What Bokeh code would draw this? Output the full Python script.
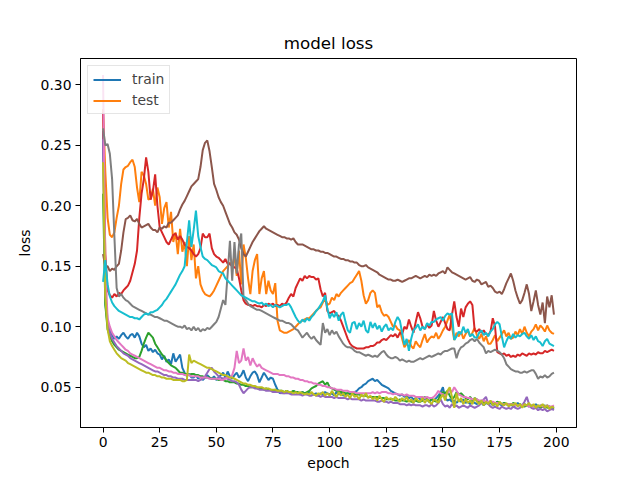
from bokeh.plotting import figure
from bokeh.models import Range1d, FixedTicker, NumeralTickFormatter, Legend, LegendItem
from bokeh.embed import file_html
from bokeh.resources import INLINE

epochs = list(range(200))

# loss values in thousandths, one per epoch (0..199)
s_blue = [262,120,102,97,93,90,92,90,93,95, 92,90,93,94,91,95,92,86,83,85,
          80,82,79,81,78,77,73,76,71,73, 69,78,71,74,77,66,62,59,61,58,
          58,60,57,59,56,58,60,58,57,59, 56,58,60,62,58,63,59,57,60,62,
          58,60,64,58,55,59,62,63,60,54, 58,62,59,56,58,57,52,48,45,46,
          45,47,46,45,47,46,45,44,46,45, 44,46,45,44,45,43,45,44,46,45,
          44,45,43,46,44,45,43,44,45,44, 45,46,47,49,50,52,53,55,56,57,
          55,56,54,52,51,50,49,47,46,45, 44,43,44,42,43,41,42,40,41,42,
          40,39,41,40,38,40,39,41,43,46, 50,41,39,40,38,39,37,39,38,40,
          37,38,36,38,37,36,38,37,35,37, 36,37,35,36,38,36,35,37,36,35,
          36,34,35,37,35,34,36,35,34,35, 34,36,33,35,34,33,35,34,33,34]
s_orange = [280,228,190,176,174,178,190,200,218,230, 232,233,236,238,232,215,203,228,225,218,
            205,206,214,200,215,207,185,198,203,182, 195,170,178,160,181,162,170,150,175,155,
            168,140,150,135,130,127,126,125,127,130, 134,138,142,146,148,150,153,150,158,142,
            163,135,168,157,140,127,146,155,160,127, 140,146,127,138,130,127,136,105,97,96,
            95,95,96,97,98,100,102,104,105,106, 107,107,109,111,113,115,116,120,123,118,
            119,124,122,127,125,128,130,132,134,136, 137,140,143,146,138,126,119,122,128,130,
            128,116,118,112,109,110,108,104,100,101, 98,97,90,83,86,89,84,82,88,85,
            83,89,94,87,90,92,91,95,90,93, 97,100,105,110,100,89,95,92,96,90,
            94,97,92,95,99,93,90,94,88,92, 86,86,89,93,88,91,94,97,92,95,
            90,91,96,93,98,94,100,95,92,96, 98,102,97,101,99,96,101,97,95,94]
s_green = [210,118,98,92,88,85,83,81,80,79, 78,77,76,75,74,74,75,80,86,91,
           95,93,91,86,83,80,77,75,72,70, 68,67,66,64,62,62,61,61,60,61,
           61,60,60,59,59,58,58,58,57,57, 57,56,56,56,55,55,54,54,54,53,
           53,52,52,51,51,50,50,50,49,49, 49,48,49,48,48,47,48,47,47,47,
           46,47,46,46,47,46,46,45,46,45, 46,47,49,50,51,53,54,55,52,54,
           50,49,48,47,47,46,46,45,45,45, 45,44,44,44,43,43,43,42,42,42,
           42,42,41,41,41,40,40,40,40,39, 39,40,39,39,38,39,38,38,39,38,
           38,39,42,40,38,41,39,38,40,44, 46,45,47,43,40,42,46,44,45,43,
           41,40,42,39,41,40,38,39,37,38, 37,38,37,36,38,37,36,37,36,36,
           35,37,36,35,36,35,34,35,36,34, 35,34,35,33,34,35,33,34,33,32]
s_red = [277,160,130,126,124,127,125,128,127,130, 132,134,138,145,152,163,190,210,222,240,
         228,205,212,226,200,182,178,174,170,168, 172,176,177,172,175,172,168,166,165,163,
         160,158,160,165,177,174,174,177,165,160, 158,157,155,153,156,152,152,150,149,148,
         140,130,122,119,118,118,117,118,117,117, 116,118,117,119,118,119,117,118,117,119,
         118,120,124,127,125,132,136,140,138,142, 140,142,141,141,139,140,131,125,128,113,
         111,112,113,110,109,105,100,95,90,86, 84,83,82,82,82,82,83,83,84,84,
         85,87,87,89,90,89,91,93,92,94, 91,95,94,100,98,106,100,95,104,112,
         107,100,98,102,99,101,113,105,100,104, 108,103,98,97,110,121,108,100,115,108,
         116,119,121,118,97,96,98,95,97,94, 93,96,107,100,79,78,77,78,76,77,
         75,76,75,77,76,78,77,76,78,77, 78,77,79,78,78,80,79,80,81,80]
s_purple = [255,130,105,95,90,87,84,82,80,78, 77,76,74,73,72,71,70,69,68,67,
            66,65,64,63,63,62,61,60,60,59, 59,58,58,57,57,57,56,56,56,56,
            56,56,55,56,57,59,62,65,66,63, 61,59,58,57,58,57,56,55,55,54,
            52,48,45,47,49,50,50,49,49,48, 48,48,47,47,47,46,46,46,46,45,
            45,45,45,44,44,44,44,44,43,44, 44,43,43,44,43,43,42,43,42,42,
            42,42,41,42,41,41,41,41,40,41, 40,40,40,40,39,40,39,39,39,39,
            39,38,38,39,38,38,37,38,37,37, 37,36,36,36,35,36,35,36,35,35,
            35,34,35,35,34,36,34,35,37,40, 36,34,35,33,36,34,35,33,34,35,
            34,33,35,34,33,34,35,37,40,42, 36,34,33,34,33,32,34,33,32,33,
            32,34,33,32,33,35,38,42,36,33, 32,33,31,32,31,32,30,31,32,31]
s_brown = [160,150,150,146,148,147,150,152,163,178, 189,190,192,188,187,189,185,182,183,184,
           185,182,180,180,178,182,181,183,182,186, 186,188,190,192,197,201,204,208,212,216,
           218,220,222,232,246,252,254,245,232,218, 213,207,203,200,195,190,185,182,178,176,
           172,165,160,158,162,166,170,173,176,179, 181,183,181,180,179,178,177,176,175,174,
           174,173,173,172,173,170,168,168,168,167, 166,165,164,164,163,163,162,162,161,161,
           160,159,158,158,157,156,156,155,155,154, 154,153,153,151,150,150,151,149,148,147,
           146,145,143,142,141,140,139,139,138,138, 139,138,137,138,139,140,140,141,142,141,
           140,141,142,141,143,142,143,142,144,145, 146,144,149,147,145,144,143,142,141,140,
           139,140,141,138,137,139,138,135,136,137, 133,134,132,129,128,129,127,131,136,140,
           144,138,130,124,119,122,128,135,127,113, 121,130,118,110,120,103,125,116,126,110]
s_pink = [308,150,107,100,95,92,89,87,85,83, 81,80,78,77,76,75,74,73,72,71,
          70,69,68,67,66,66,65,64,64,63, 63,62,62,61,61,61,60,60,60,59,
          59,59,59,58,58,58,58,57,57,57, 57,57,56,56,57,58,58,60,66,80,
          70,72,82,72,75,68,74,70,67,69, 66,65,64,63,62,61,61,61,60,60,
          60,59,59,58,58,57,57,56,56,55, 55,54,54,53,53,52,52,51,51,50,
          50,49,49,48,48,48,47,47,47,46, 46,46,45,45,45,45,45,45,45,46,
          45,46,45,46,46,46,45,45,44,45, 44,44,44,43,44,43,43,43,42,42,
          42,42,41,42,41,41,42,44,47,45, 44,43,45,48,46,50,47,44,43,42,
          42,41,41,40,40,40,39,39,39,38, 38,38,38,37,37,37,36,36,36,36,
          36,36,35,35,35,35,35,35,34,35, 34,34,34,35,34,34,35,34,34,35]
s_gray = [264,250,251,243,222,175,132,125,127,124, 122,121,119,117,116,115,114,113,112,111,
          110,110,109,108,108,107,106,105,105,104, 103,102,101,100,100,99,101,98,99,97,
          100,97,99,96,98,97,99,98,100,102, 104,108,115,122,118,144,171,138,170,144,
          168,177,124,122,119,117,116,115,114,114, 113,112,111,110,109,108,107,106,105,105,
          104,103,103,102,100,98,97,94,91,93, 95,92,90,92,89,87,85,103,95,98,
          93,97,94,96,92,89,86,84,83,83, 82,80,79,79,78,77,76,77,76,75,
          76,75,77,79,80,77,75,74,74,75, 74,72,73,72,71,72,71,71,72,73,
          74,73,74,75,76,75,76,77,78,77, 79,80,80,81,82,82,74,80,83,84,
          86,87,89,90,88,90,87,85,83,78, 80,79,80,81,80,79,77,74,69,67,
          65,64,63,63,62,62,63,62,63,64, 64,61,57,59,58,60,58,59,61,62]
s_olive = [236,125,98,88,84,81,78,76,74,73, 72,70,69,68,67,66,65,64,63,62,
           62,61,60,60,59,59,58,58,57,57, 57,56,56,56,56,55,55,56,77,70,
           72,71,70,69,68,67,66,66,65,64, 63,62,61,60,60,59,58,58,57,56,
           55,54,53,53,52,52,51,51,50,50, 50,49,49,49,48,48,48,47,47,47,
           46,47,46,46,45,46,45,46,45,44, 45,44,46,44,43,45,44,46,43,45,
           43,47,44,42,46,43,45,42,44,41, 45,42,43,40,44,42,45,41,43,40,
           42,39,43,40,38,42,40,41,39,42, 40,38,41,39,42,38,40,37,41,39,
           38,41,37,40,38,36,40,39,37,41, 44,39,47,50,42,33,45,38,41,36,
           40,37,39,36,41,38,36,39,35,38, 36,39,35,37,34,38,36,35,37,34,
           36,35,37,34,36,33,36,35,37,34, 36,33,35,34,36,33,35,32,34,33]
s_cyan = [137,155,135,125,120,117,115,113,112,111, 110,109,108,108,107,107,106,108,110,111,
          110,112,112,113,114,116,118,121,123,126, 129,132,135,139,143,146,150,170,188,166,
          180,196,175,166,158,156,155,153,151,150, 149,146,145,144,140,138,136,134,132,130,
          128,126,125,124,123,122,121,121,120,119, 120,118,119,117,118,116,118,117,116,117,
          118,118,119,116,112,108,105,103,106,104, 107,105,108,110,113,115,118,121,126,115,
          107,111,108,112,105,110,112,104,97,95, 103,104,98,103,100,105,97,95,104,99,
          103,98,101,96,100,102,97,99,97,104, 108,105,95,85,90,80,90,97,99,102,
          97,100,98,103,101,104,104,106,107,108, 105,109,111,110,111,89,92,96,94,100,
          95,98,92,94,91,91,95,97,93,95, 92,96,98,102,104,102,92,83,88,92,
          90,94,91,93,92,94,95,92,90,93, 89,92,88,87,84,88,90,86,85,84]

series = [
    (s_blue, "#1f77b4"), (s_orange, "#ff7f0e"), (s_green, "#2ca02c"),
    (s_red, "#d62728"), (s_purple, "#9467bd"), (s_brown, "#8c564b"),
    (s_pink, "#e377c2"), (s_gray, "#7f7f7f"), (s_olive, "#bcbd22"),
    (s_cyan, "#17becf"),
]
legend_labels = ["train", "test"]
x_ticks = [0, 25, 50, 75, 100, 125, 150, 175, 200]
y_ticks = [0.05, 0.10, 0.15, 0.20, 0.25, 0.30]

FONT = "DejaVu Sans"

p = figure(frame_width=496, frame_height=369,
           min_border_left=80, min_border_right=56,
           min_border_top=58, min_border_bottom=45,
           x_range=Range1d(-9.95, 208.95), y_range=Range1d(0.0167, 0.3217),
           output_backend="svg", toolbar_location=None, title="model loss")

renderers = []
for vals, col in series:
    r = p.line(epochs, [v / 1000 for v in vals], line_color=col, line_width=2)
    renderers.append(r)

p.xgrid.visible = False
p.ygrid.visible = False
p.outline_line_color = "black"
p.outline_line_width = 1
p.outline_line_alpha = 1
p.background_fill_color = "white"
p.border_fill_color = "white"

p.title.align = "center"
p.title.text_font = FONT
p.title.text_font_size = "16.7px"
p.title.text_font_style = "normal"
p.title.text_color = "black"
p.title.standoff = 12

p.xaxis.ticker = FixedTicker(ticks=x_ticks)
p.yaxis.ticker = FixedTicker(ticks=y_ticks)
p.yaxis.formatter = NumeralTickFormatter(format="0.00")
p.xaxis.axis_label = "epoch"
p.yaxis.axis_label = "loss"
for ax in (p.xaxis, p.yaxis):
    ax.major_label_text_font = FONT
    ax.major_label_text_font_size = "13.9px"
    ax.major_label_text_color = "black"
    ax.axis_label_text_font = FONT
    ax.axis_label_text_font_size = "13.9px"
    ax.axis_label_text_font_style = "normal"
    ax.axis_label_text_color = "black"
    ax.major_tick_out = 5
    ax.major_tick_in = 0
    ax.minor_tick_out = 0
    ax.minor_tick_in = 0
    ax.major_tick_line_color = "black"
    ax.axis_line_color = "black"
    ax.major_label_standoff = 4
    ax.axis_label_standoff = 5

legend = Legend(items=[LegendItem(label=legend_labels[0], renderers=[renderers[0]]),
                       LegendItem(label=legend_labels[1], renderers=[renderers[1]])],
                location="top_left")
legend.margin = 7
legend.padding = 5
legend.spacing = 5
legend.label_height = 15
legend.glyph_height = 15
legend.glyph_width = 28
legend.label_standoff = 11
legend.label_text_font = FONT
legend.label_text_font_size = "13.9px"
legend.border_line_color = "#cccccc"
legend.border_line_width = 1
legend.background_fill_alpha = 0.8
p.add_layout(legend)

open("out.html", "w").write(file_html(p, INLINE))
